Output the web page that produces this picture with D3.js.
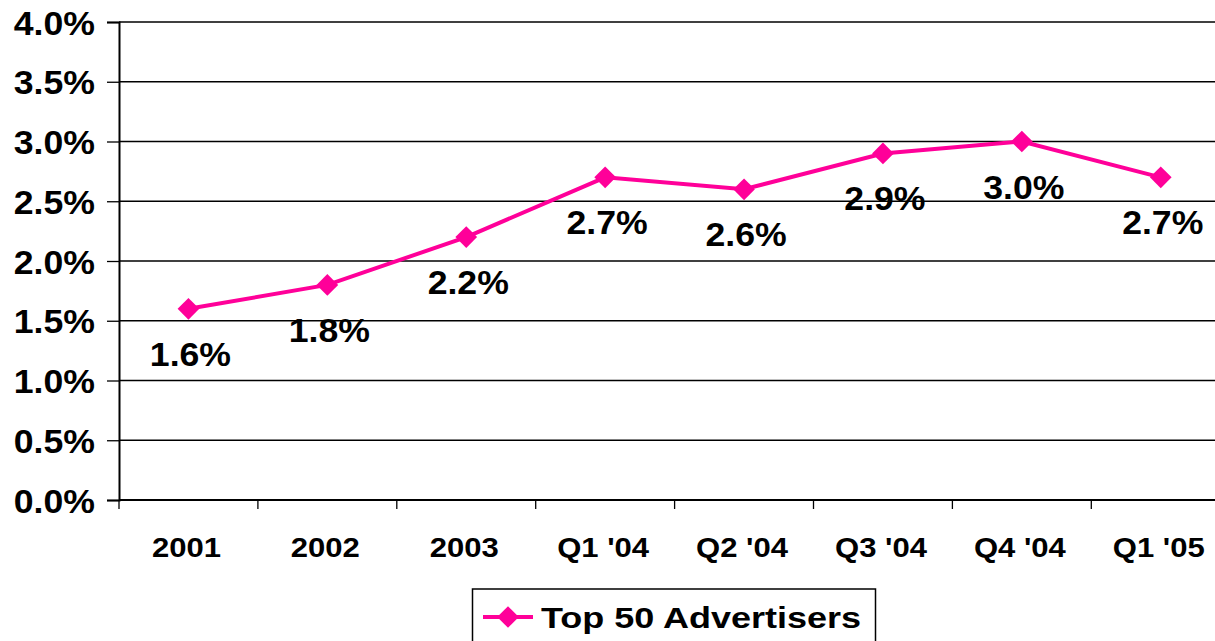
<!DOCTYPE html>
<html>
<head>
<meta charset="utf-8">
<script src="https://cdn.jsdelivr.net/npm/d3@7"></script>
<style>
  body { margin: 0; background: #fff; }
  text { font-family: Arial, "Liberation Sans", sans-serif; font-weight: bold; fill: #000; }
</style>
</head>
<body>
<svg id="chart" width="1215" height="641"></svg>
<script>
const categories = ["2001", "2002", "2003", "Q1 '04", "Q2 '04", "Q3 '04", "Q4 '04", "Q1 '05"];
const values = [0.016, 0.018, 0.022, 0.027, 0.026, 0.029, 0.030, 0.027];
const yTicks = [0, 0.005, 0.01, 0.015, 0.02, 0.025, 0.03, 0.035, 0.04];
const seriesName = "Top 50 Advertisers";

const pink = "#FF0099";
const plotLeft = 119, plotTop = 22, plotBottom = 500, band = 138.9;

const svg = d3.select("#chart");

const xScale = d3.scaleBand().domain(categories).range([plotLeft, plotLeft + band * categories.length]).padding(0);
const yScale = d3.scaleLinear().domain([0, 0.04]).range([plotBottom, plotTop]);
const fmt = d3.format(".1%");

// gridlines
svg.append("g")
    .selectAll("line")
    .data(yTicks.slice(1))
    .enter().append("line")
    .attr("x1", plotLeft).attr("x2", 1215)
    .attr("y1", d => yScale(d)).attr("y2", d => yScale(d))
    .attr("stroke", "#000").attr("stroke-width", 1.3);

// y axis
const yAxis = d3.axisLeft(yScale).tickValues(yTicks).tickSize(12).tickFormat(fmt);
const yG = svg.append("g")
    .attr("transform", "translate(" + plotLeft + ",0)")
    .call(yAxis);
yG.select(".domain").attr("stroke-width", 2);
yG.selectAll(".tick line").attr("stroke-width", 1.3);
yG.selectAll(".tick text")
    .attr("x", null).attr("dy", null)
    .attr("font-size", 33)
    .attr("text-anchor", "end")
    .attr("transform", "translate(-24,12) scale(1.08,1)");

// x axis
const xAxis = d3.axisBottom(xScale).tickSize(0).tickSizeOuter(0);
const xG = svg.append("g")
    .attr("transform", "translate(0," + plotBottom + ")")
    .call(xAxis);
xG.select(".domain").attr("stroke-width", 2).attr("d", "M" + plotLeft + ",0H1215");
xG.selectAll(".tick text")
    .attr("y", null).attr("dy", null)
    .attr("font-size", 27)
    .attr("text-anchor", "middle")
    .attr("transform", "translate(-2,57) scale(1.15,1)");

// tick marks between categories
svg.append("g")
    .selectAll("line")
    .data(categories)
    .enter().append("line")
    .attr("x1", d => xScale(d)).attr("x2", d => xScale(d))
    .attr("y1", plotBottom).attr("y2", plotBottom + 9)
    .attr("stroke", "#000").attr("stroke-width", 1.3);

const cx = d => xScale(d) + xScale.bandwidth() / 2;
const points = categories.map((c, i) => ({ c: c, v: values[i] }));

const line = d3.line()
    .x(d => cx(d.c))
    .y(d => yScale(d.v));

svg.append("path")
    .datum(points)
    .attr("d", line)
    .attr("fill", "none")
    .attr("stroke", pink)
    .attr("stroke-width", 4);

const diamond = d3.symbol().type(d3.symbolDiamond2).size(300);

svg.selectAll(".marker")
    .data(points)
    .enter().append("path")
    .attr("class", "marker")
    .attr("d", diamond)
    .attr("transform", d => "translate(" + cx(d.c) + "," + yScale(d.v) + ")")
    .attr("fill", pink);

svg.selectAll(".label")
    .data(points)
    .enter().append("text")
    .attr("class", "label")
    .attr("font-size", 33)
    .attr("text-anchor", "middle")
    .attr("transform", d => "translate(" + (cx(d.c) + 2) + "," + (yScale(d.v) + 57) + ") scale(1.08,1)")
    .text(d => fmt(d.v));

// legend
const legend = svg.append("g");
legend.append("rect")
    .attr("x", 472.5).attr("y", 589)
    .attr("width", 403).attr("height", 60)
    .attr("fill", "#fff").attr("stroke", "#000").attr("stroke-width", 1.5);
legend.append("line")
    .attr("x1", 483).attr("x2", 533)
    .attr("y1", 617).attr("y2", 617)
    .attr("stroke", pink).attr("stroke-width", 4);
legend.append("path")
    .attr("d", diamond)
    .attr("transform", "translate(508,617)")
    .attr("fill", pink);
legend.append("text")
    .attr("font-size", 30)
    .attr("transform", "translate(541,628) scale(1.2,1)")
    .text(seriesName);
</script>
</body>
</html>
